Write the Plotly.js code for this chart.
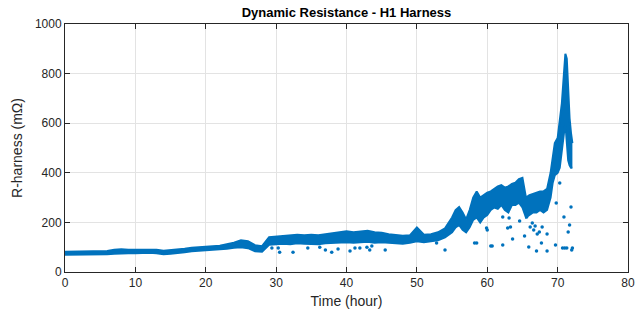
<!DOCTYPE html>
<html>
<head>
<meta charset="utf-8">
<script src="https://cdn.plot.ly/plotly-3.0.1.min.js"></script>
<style>html,body{margin:0;padding:0;background:#fff;}#chart{width:636px;height:321px;}</style>
</head>
<body>
<div id="chart"></div>
<script>
// Main band: time (hour), lower and upper envelope (mOhm)
var bandT = [0,1,2,3,4,5,6,7,8,9,10,11,12,13,14,15,16,17,18,19,20,21,22,23,24,25,26,27,28,29,30,31,32,33,34,35,36,37,38,39,40,41,42,43,44,45,46,47,48,49,50,51,52,53,54,55,55.5,56,56.5,57,57.5,58,58.5,59,59.5,60,60.5,61,61.5,62,62.5,63,63.5,64,64.5,65,65.5,66,66.5,67,67.5,68,68.5,69,69.3,69.6,70,70.3,70.6,70.9,71.1,71.3,71.5,71.7,71.9,72.1];
var bandLow = [70,70,70,70,70,71,72,74,76,76,76,78,78,76,72,74,76,80,84,86,88,88,90,94,98,100,96,84,82,110,112,114,112,116,114,114,112,116,118,120,120,118,120,122,118,120,118,116,114,118,124,120,124,128,140,160,180,190,170,160,180,210,220,200,220,230,250,260,255,270,250,240,270,270,280,260,220,230,240,240,250,240,250,300,360,390,400,420,500,560,600,520,450,430,420,420];
var bandHigh = [82,82,82,82,82,83,85,90,92,90,90,92,92,90,86,88,90,94,98,100,104,104,106,112,118,128,124,108,104,140,142,146,146,150,148,150,148,152,156,160,164,160,162,166,160,158,152,150,146,148,180,150,152,160,176,220,250,262,240,212,250,300,325,300,310,320,325,335,345,350,340,345,355,360,375,380,300,310,315,320,325,325,335,400,470,520,540,600,680,800,880,860,720,620,560,520];

// Scattered outlier points below the band
var outT = [29.4,30.3,30.5,32.4,34.5,36.2,37,37.9,38.8,40.5,41.2,41.9,42.9,43.3,43.6,45.5,52.8,54,58.2,58.5,59.9,60,60.5,60.7,62.2,62.2,62.9,63.1,63.3,63.6,64.6,65.3,65.6,65.9,66.1,66.4,66.6,66.8,67,67.1,67.4,67.7,67.8,68.5,68.5,69.7,69.8,70.3,70.7,70.9,71,71.3,71.5,71.7,72,72.1,71.9];
var outV = [97,97,80,80,97,100,89,80,93,85,97,97,100,89,105,89,117,89,117,117,177,169,105,105,222,109,177,218,181,133,206,145,222,101,181,198,169,185,85,153,161,117,181,85,153,109,278,359,97,222,97,97,161,190,89,97,262];

var blue = '#0072BD';
var traces = [
  {x: bandT, y: bandLow, type: 'scatter', mode: 'lines', line: {color: blue, width: 2}, hoverinfo: 'skip', showlegend: false},
  {x: bandT, y: bandHigh, type: 'scatter', mode: 'lines', fill: 'tonexty', fillcolor: blue, line: {color: blue, width: 2}, showlegend: false},
  {x: outT, y: outV, type: 'scatter', mode: 'markers', marker: {color: blue, size: 3.5}, showlegend: false}
];

var axisCommon = {
  showline: true, mirror: 'ticks', linecolor: '#262626', linewidth: 1,
  ticks: 'inside', ticklen: 5, tickcolor: '#262626', tickwidth: 1,
  showgrid: true, gridcolor: '#e3e3e3', gridwidth: 1, zeroline: false,
  tickfont: {family: 'Liberation Sans, Arial, sans-serif', size: 12, color: '#262626'}
};

var layout = {
  width: 636, height: 321,
  margin: {l: 65, r: 8, t: 24, b: 49},
  paper_bgcolor: '#ffffff', plot_bgcolor: '#ffffff',
  title: {text: '<b>Dynamic Resistance - H1 Harness</b>', x: 0.5, xref: 'paper', y: 1 - 12/321, yref: 'container', yanchor: 'middle',
          font: {family: 'Liberation Sans, Arial, sans-serif', size: 13, color: '#000000'}},
  xaxis: Object.assign({}, axisCommon, {range: [0, 80], dtick: 10, tick0: 0,
    title: {text: 'Time (hour)', standoff: 6, font: {family: 'Liberation Sans, Arial, sans-serif', size: 14, color: '#262626'}}}),
  yaxis: Object.assign({}, axisCommon, {range: [0, 1000], dtick: 200, tick0: 0,
    title: {text: 'R-harness (mΩ)', standoff: 8, font: {family: 'Liberation Sans, Arial, sans-serif', size: 14, color: '#262626'}}}),
  showlegend: false
};

Plotly.newPlot('chart', traces, layout, {displayModeBar: false, staticPlot: true});
</script>
</body>
</html>
